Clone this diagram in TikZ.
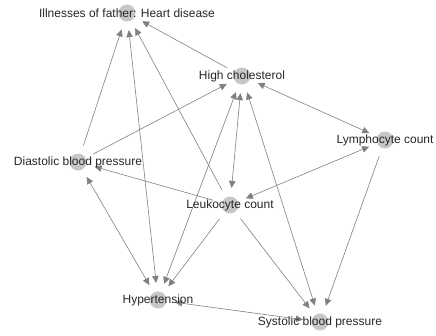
\documentclass[tikz,border=0pt]{standalone}
\usepackage{fontspec}
\setmainfont{Liberation Sans}
\usetikzlibrary{arrows.meta}
\usetikzlibrary{backgrounds}
\newcommand{\dotsize}{17pt}
\newcommand{\edgegap}{8.5pt}
\newcommand{\varfont}{\fontsize{12}{14}\selectfont}
\tikzset{
  var/.style={circle, fill=black!22, minimum size=\dotsize, inner sep=0pt},
  varname/.style={font=\varfont, text=black!85, inner sep=0pt},
  link/.style={draw=black!50, line width=0.6pt,
    shorten >=\edgegap, shorten <=\edgegap},
  oneway/.style={link, -{Triangle[length=7pt,width=6.5pt]}},
  twoway/.style={link, {Triangle[length=7pt,width=6.5pt]}-{Triangle[length=7pt,width=6.5pt]}}
}

\begin{document}
\begin{tikzpicture}[x=1pt, y=-1pt]
    \useasboundingbox (0,0) rectangle (436,335);
    % variables
    \node (father) at (127,13) [var,
      label={[varname]center:Illnesses of father: Heart disease}] {};
    \node (chol) at (242,76) [var, label={[varname]center:High cholesterol}] {};
    \node (lympho) at (385,140) [var, label={[varname]center:Lymphocyte count}] {};
    \node (dia) at (78,162) [var,
      label={[varname]center:Diastolic blood pressure}] {};
    \node (leuko) at (230,205) [var, label={[varname]center:Leukocyte count}] {};
    \node (hyper) at (158,300) [var, label={[varname]center:Hypertension}] {};
    \node (sys) at (320,322) [var,
      label={[varname]center:Systolic blood pressure}] {};

    \begin{scope}[on background layer]
      % one way
      \draw[oneway] (dia) -- (father);
      \draw[oneway] (leuko) -- (father);
      \draw[oneway] (chol) -- (father);
      \draw[oneway] (dia) -- (chol);
      \draw[oneway] (leuko) -- (dia);
      \draw[oneway] (leuko) -- (hyper);
      \draw[oneway] (leuko) -- (sys);
      \draw[oneway] (lympho) -- (sys);
      % both ways
      \draw[twoway] (hyper) -- (father);
      \draw[twoway] (hyper) -- (chol);
      \draw[twoway] (chol) -- (leuko);
      \draw[twoway] (sys) -- (chol);
      \draw[twoway] (chol) -- (lympho);
      \draw[twoway] (leuko) -- (lympho);
      \draw[twoway] (dia) -- (hyper);
      \draw[twoway] (hyper) -- (sys);
    \end{scope}
\end{tikzpicture}
\end{document}
